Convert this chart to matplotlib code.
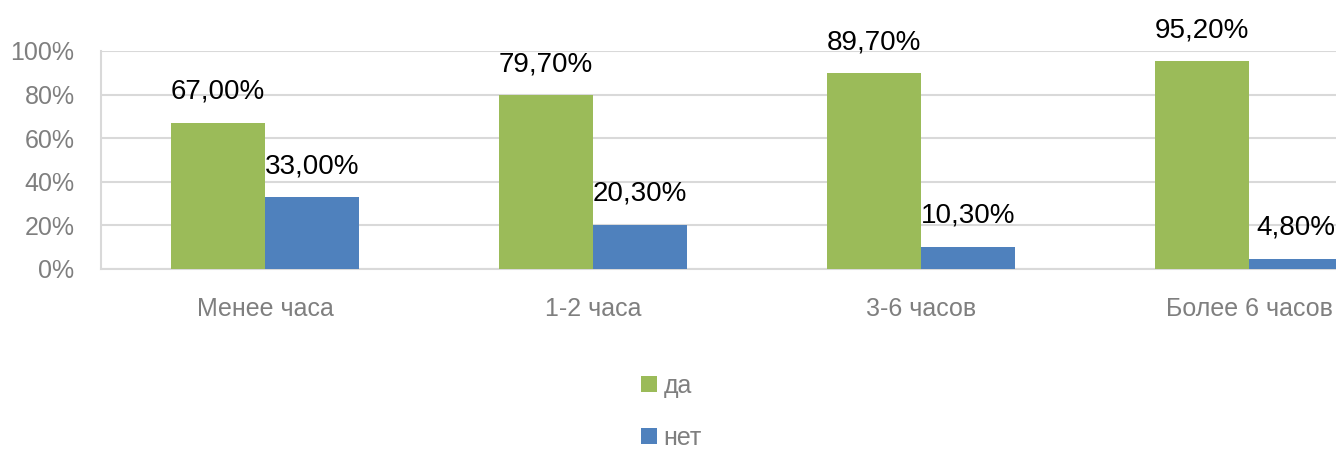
import numpy as np
import matplotlib
matplotlib.use('Agg')
import matplotlib.pyplot as plt
from matplotlib.patches import Patch

plt.rcParams['font.family'] = ['Liberation Sans', 'DejaVu Sans']

# Data
categories = ['Менее часа', '1-2 часа', '3-6 часов', 'Более 6 часов']
yes_values = [0.67, 0.797, 0.897, 0.952]
no_values = [0.33, 0.203, 0.103, 0.048]
series_names = ['да', 'нет']

green = '#9BBB59'
blue = '#4F81BD'
grey_text = '#7F7F7F'
grid_col = '#D9D9D9'

fig = plt.figure(figsize=(13.36, 4.5), dpi=100)
# axes deliberately runs past the right edge, like the reference crop
ax = fig.add_axes([101 / 1336, 181 / 450, 1312 / 1336, 218 / 450])

x = np.arange(len(categories))
width = 0.287

rects1 = ax.bar(x - width / 2, yes_values, width, color=green, zorder=3)
rects2 = ax.bar(x + width / 2, no_values, width, color=blue, zorder=3)

ax.set_xlim(-0.5, len(categories) - 0.5)
ax.set_ylim(0, 1)
ax.set_yticks(np.arange(0, 1.01, 0.2))
ax.set_yticklabels(['{:.0f}%'.format(v * 100) for v in np.arange(0, 1.01, 0.2)])
ax.set_xticks(x)
ax.set_xticklabels(categories)

ax.tick_params(axis='y', length=0, pad=19, labelsize=18, labelcolor=grey_text)
ax.tick_params(axis='x', length=0, pad=20, labelsize=18, labelcolor=grey_text)

ax.grid(axis='y', color=grid_col, linewidth=1.5, zorder=0)
for side in ['top', 'right']:
    ax.spines[side].set_visible(False)
ax.spines['left'].set_color(grid_col)
ax.spines['left'].set_linewidth(1.5)
ax.spines['bottom'].set_color(grid_col)
ax.spines['bottom'].set_linewidth(1.5)


def autolabel(rects, values):
    for rect, v in zip(rects, values):
        ax.annotate('{:.2f}%'.format(v * 100).replace('.', ','),
                    xy=(rect.get_x() + rect.get_width() / 2, rect.get_height()),
                    xytext=(0, 13), textcoords='offset points',
                    ha='center', va='bottom', fontsize=20, color='black',
                    annotation_clip=False)


autolabel(rects1, yes_values)
autolabel(rects2, no_values)

handles = [Patch(facecolor=green), Patch(facecolor=blue)]
fig.legend(handles, series_names, loc='upper left',
           bbox_to_anchor=(641 / 1336, 1 - 374 / 450),
           frameon=False, fontsize=18, labelcolor=grey_text,
           handlelength=0.64, handleheight=0.64, handletextpad=0.25,
           labelspacing=1.12, borderpad=0, borderaxespad=0)

fig.savefig('out.png', dpi=100)
